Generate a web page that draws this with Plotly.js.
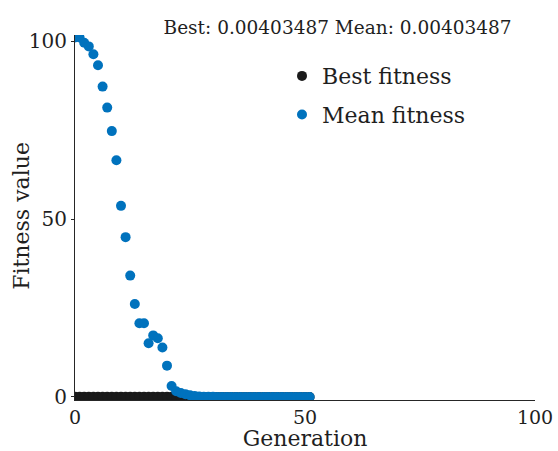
<!DOCTYPE html>
<html>
<head>
<meta charset="utf-8">
<script src="https://cdn.plot.ly/plotly-3.0.1.min.js"></script>
<style>html,body{margin:0;padding:0;background:#fff;}#chart{width:558px;height:451px;}</style>
</head>
<body>
<div id="chart"></div>
<script>
const generations = [0,1,2,3,4,5,6,7,8,9,10,11,12,13,14,15,16,17,18,19,20,21,22,23,24,25,26,27,28,29,30,31,32,33,34,35,36,37,38,39,40,41,42,43,44,45,46,47,48,49,50,51];
const bestFitness = [0.09,0.09,0.09,0.08,0.08,0.08,0.08,0.07,0.07,0.07,0.07,0.06,0.06,0.06,0.06,0.05,0.05,0.05,0.04,0.04,0.04,0.03,0.03,0.02,0.02,0.015,0.012,0.01,0.009,0.008,0.007,0.006,0.0055,0.005,0.0048,0.0046,0.0045,0.0044,0.0043,0.0042,0.0042,0.0041,0.0041,0.0041,0.00405,0.00404,0.00404,0.00404,0.00403487,0.00403487,0.00403487,0.00403487];
const meanFitness = [101,101,99.5,98.5,96.3,93.2,87.2,81.3,74.7,66.5,53.7,44.9,34.1,26.1,20.7,20.7,15.1,17.3,16.5,13.9,8.8,3.1,1.6,1.1,0.8,0.5,0.3,0.15,0.08,0.05,0.03,0.02,0.015,0.01,0.008,0.007,0.006,0.0055,0.005,0.0048,0.0046,0.0045,0.0044,0.0043,0.0042,0.0041,0.0041,0.00405,0.00404,0.00403487,0.00403487,0.00403487];
const titleText = 'Best: 0.00403487 Mean: 0.00403487';
const xTitle = 'Generation';
const yTitle = 'Fitness value';
const xTicks = [0,50,100];
const yTicks = [0,50,100];

const font = 'DejaVu Serif';
const txt = '#1f1f1f';

const traces = [
  {x: generations, y: bestFitness, mode: 'markers', type: 'scatter', name: 'Best fitness',
   legendgroup: 'a', marker: {color: '#1a1a1a', size: 10}},
  {x: generations, y: meanFitness, mode: 'markers', type: 'scatter', name: 'Mean fitness',
   legendgroup: 'b', marker: {color: '#0072BD', size: 10}}
];

const layout = {
  width: 558, height: 451,
  margin: {l: 75, r: 23, t: 35, b: 51},
  paper_bgcolor: '#fff', plot_bgcolor: '#fff',
  font: {family: font, color: txt, size: 20},
  title: {text: titleText, font: {family: font, size: 18.5, color: txt}, x: 0.605, xanchor: 'center', y: 0.94, yanchor: 'middle'},
  showlegend: true,
  legend: {x: 0.45, y: 0.945, xanchor: 'left', yanchor: 'top', bgcolor: 'rgba(0,0,0,0)', borderwidth: 0,
           font: {family: font, size: 22, color: txt}, tracegroupgap: 7, itemsizing: 'trace'},
  xaxis: {range: [0, 100], tickvals: xTicks, ticktext: xTicks.map(String), showgrid: false, zeroline: false,
          showline: true, linecolor: '#262626', linewidth: 1, ticks: '',
          tickfont: {family: font, size: 19, color: txt},
          title: {text: xTitle, font: {family: font, size: 22, color: txt}, standoff: 7}},
  yaxis: {range: [-0.85, 101.7], tickvals: yTicks, ticktext: yTicks.map(String), showgrid: false, zeroline: false,
          showline: true, linecolor: '#262626', linewidth: 1, ticks: 'outside', ticklen: 3, tickcolor: '#262626',
          tickfont: {family: font, size: 20, color: txt}},
  annotations: [{text: yTitle, xref: 'paper', yref: 'paper', x: -0.115, y: 0.505, xanchor: 'center', yanchor: 'middle',
                 textangle: -90, showarrow: false, font: {family: font, size: 22, color: txt}}]
};

Plotly.newPlot('chart', traces, layout, {displayModeBar: false, staticPlot: true});
</script>
</body>
</html>
